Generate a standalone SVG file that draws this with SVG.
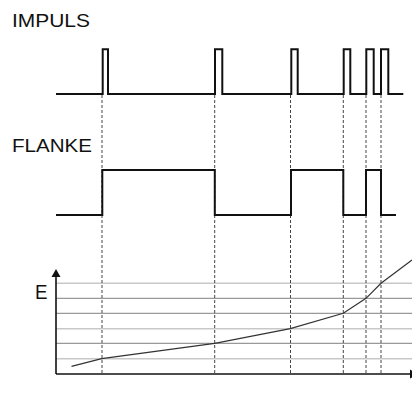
<svg xmlns="http://www.w3.org/2000/svg" width="412" height="405" viewBox="0 0 412 405">
<style>
.lbl{font-family:"Liberation Sans",Arial,sans-serif;fill:#111}
.sig{fill:none;stroke:#111;stroke-width:2;stroke-linejoin:miter}
.dash{stroke:#444;stroke-width:1;stroke-dasharray:3,2;fill:none}
.grid{stroke:#999;stroke-width:1.2}
.gridl{stroke:#c8c8c8;stroke-width:1.6}
.axis{stroke:#111;stroke-width:1.6;fill:none}
.curve{stroke:#333;stroke-width:1.2;fill:none}
</style>
<rect width="412" height="405" fill="#fff"/>
<g id="labels">
<text class="lbl" x="12" y="26.7" font-size="18.5" textLength="78" lengthAdjust="spacingAndGlyphs">IMPULS</text>
<text class="lbl" x="12" y="151.7" font-size="18.5" textLength="80" lengthAdjust="spacingAndGlyphs">FLANKE</text>
<text class="lbl" x="35" y="299" font-size="20.5" textLength="12.5" lengthAdjust="spacingAndGlyphs">E</text>
</g>
<g id="grid">
<line class="gridl" x1="56" y1="283.3" x2="412" y2="283.3"/>
<line class="grid" x1="56" y1="298.3" x2="412" y2="298.3"/>
<line class="grid" x1="56" y1="313.3" x2="412" y2="313.3"/>
<line class="gridl" x1="56" y1="328.7" x2="412" y2="328.7"/>
<line class="grid" x1="56" y1="343.3" x2="412" y2="343.3"/>
<line class="gridl" x1="56" y1="358.7" x2="412" y2="358.7"/>
</g>
<g id="connectors">
<line class="dash" x1="102" y1="95" x2="102" y2="374"/>
<line class="dash" x1="214.7" y1="95" x2="214.7" y2="374"/>
<line class="dash" x1="290.5" y1="95" x2="290.5" y2="374"/>
<line class="dash" x1="343.3" y1="95" x2="343.3" y2="374"/>
<line class="dash" x1="366" y1="95" x2="366" y2="374"/>
<line class="dash" x1="381" y1="95" x2="381" y2="374"/>
</g>
<g id="impuls">
<path class="sig" d="M56,94 H102.7 V49.3 H108 V94 H215 V49.3 H222.3 V94 H291.3 V49.3 H297.7 V94 H343.7 V49.3 H350.3 V94 H366.3 V49.3 H373.7 V94 H381 V49.3 H388.3 V94 H403.3"/>
</g>
<g id="flanke">
<path class="sig" d="M56,215 H102.3 V170 H214.8 V215 H291 V170 H343.3 V215 H366 V170 H381 V215 H396"/>
</g>
<g id="axes">
<line class="axis" x1="56" y1="374" x2="56" y2="276"/>
<polygon points="56,269 60.5,277 51.5,277" fill="#111"/>
<line class="axis" x1="56" y1="374" x2="410" y2="374"/>
<polygon points="410,369.5 418,374 410,378.5" fill="#111"/>
</g>
<g id="curve">
<polyline class="curve" points="71.5,366.3 101.7,358.7 214.7,343.3 290.3,328.7 343.3,313.3 366,298.3 381,283.3 412,260"/>
</g>
</svg>
